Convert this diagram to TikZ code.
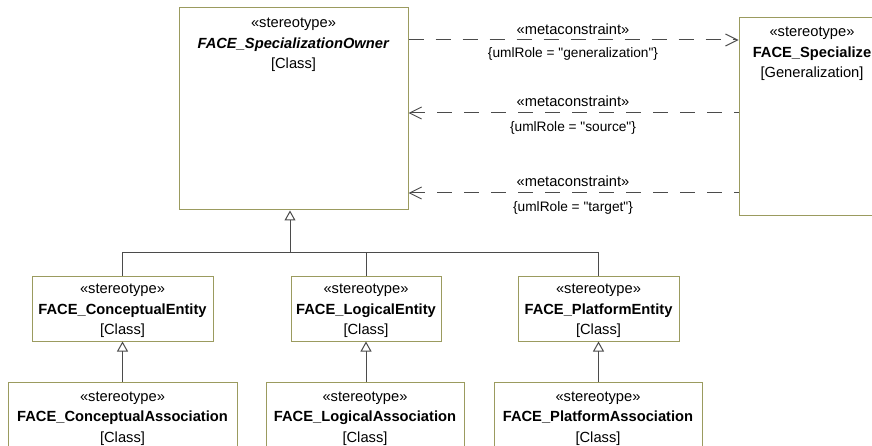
\documentclass[tikz,border=0pt]{standalone}
\usepackage{fontspec}
\setmainfont{Liberation Sans}
\newfontfamily\qfont{Liberation Sans}
\usetikzlibrary{arrows.meta}
\definecolor{boxc}{RGB}{155,155,95}
\definecolor{linec}{RGB}{75,75,75}
\newcommand{\tst}{\rule{0pt}{15pt}}
\begin{document}
\begin{tikzpicture}[x=1pt,y=-1pt,
  cls/.style={draw=boxc, line width=1pt, fill=white, inner sep=0pt, align=center,
    font=\fontsize{14.7}{20.5}\selectfont},
  txt/.style={align=center, inner sep=0pt, font=\fontsize{14.7}{20.5}\selectfont},
  lab/.style={inner sep=0pt, font=\fontsize{14.7}{17}\selectfont},
  labs/.style={inner sep=0pt, font={\qfont\fontsize{13.7}{16}\selectfont}},
  genl/.style={draw=linec, line width=1pt, -{Triangle[open,length=10pt,width=11pt]}},
  bus/.style={draw=linec, line width=1pt},
  dep/.style={draw=linec, line width=1pt, dash pattern=on 15pt off 12pt,
    -{Straight Barb[length=12pt,width=12pt]}},
  depr/.style={draw=linec, line width=1pt, dash pattern=on 15pt off 12pt,
    {Straight Barb[length=12pt,width=12pt]}-}
]
\useasboundingbox (0,0) rectangle (872,446);
\clip (0,0) rectangle (872,446);

% boxes
\node[cls, minimum width=229pt, minimum height=202pt] (owner) at (293.5,109) {};
\node[txt, anchor=north] (ownerT) at ([yshift=-5pt]owner.north)
  {\tst«stereotype»\\\textbf{\textit{FACE\_SpecializationOwner}}\\{}[Class]};

\node[cls, minimum width=146pt, minimum height=198pt] (spec) at (812,117) {};
\node[txt, anchor=north] (specT) at ([yshift=-4pt]spec.north)
  {\tst«stereotype»\\\textbf{FACE\_Specialize}\\{}[Generalization]};

\node[cls, minimum width=181pt, minimum height=65pt] (ce) at (122.5,308.5)
  {\tst«stereotype»\\\textbf{FACE\_ConceptualEntity}\\{}[Class]};
\node[cls, minimum width=150pt, minimum height=65pt] (le) at (366,308.5)
  {\tst«stereotype»\\\textbf{FACE\_LogicalEntity}\\{}[Class]};
\node[cls, minimum width=161pt, minimum height=65pt] (pe) at (598.5,308.5)
  {\tst«stereotype»\\\textbf{FACE\_PlatformEntity}\\{}[Class]};

\node[cls, minimum width=229pt, minimum height=68pt] (ca) at (122.5,416)
  {\tst«stereotype»\\\textbf{FACE\_ConceptualAssociation}\\{}[Class]};
\node[cls, minimum width=198pt, minimum height=68pt] (la) at (365,416)
  {\tst«stereotype»\\\textbf{FACE\_LogicalAssociation}\\{}[Class]};
\node[cls, minimum width=208pt, minimum height=68pt] (pa) at (598,416)
  {\tst«stereotype»\\\textbf{FACE\_PlatformAssociation}\\{}[Class]};

% generalization tree
\coordinate (bus) at (290,253);
\draw[genl] (bus) -- ([xshift=-3.5pt]owner.south);
\draw[bus] (ce.north) -- (ce.north |- bus) -- (pe.north |- bus) -- (pe.north);
\draw[bus] (le.north) -- (le.north |- bus);

\draw[genl] (ca.north) -- (ce.south);
\draw[genl] (la.north -| le.south) -- (le.south);
\draw[genl] (pa.north -| pe.south) -- (pe.south);

% metaconstraints
\coordinate (m1) at (573,40);
\coordinate (m2) at (573,113);
\coordinate (m3) at (573,193);

\draw[dep] (owner.east |- m1) -- (spec.west |- m1);
\node[lab, anchor=base] (l1a) at ([yshift=5.6pt]m1) {«metaconstraint»};
\node[labs, anchor=base] (l1b) at ([yshift=-17.5pt]m1) {\{umlRole = "generalization"\}};

\draw[depr] (owner.east |- m2) -- (spec.west |- m2);
\node[lab, anchor=base] (l2a) at ([yshift=6.4pt]m2) {«metaconstraint»};
\node[labs, anchor=base] (l2b) at ([yshift=-18.5pt]m2) {\{umlRole = "source"\}};

\draw[depr] (owner.east |- m3) -- (spec.west |- m3);
\node[lab, anchor=base] (l3a) at ([yshift=6.4pt]m3) {«metaconstraint»};
\node[labs, anchor=base] (l3b) at ([yshift=-18.5pt]m3) {\{umlRole = "target"\}};
\end{tikzpicture}
\end{document}
